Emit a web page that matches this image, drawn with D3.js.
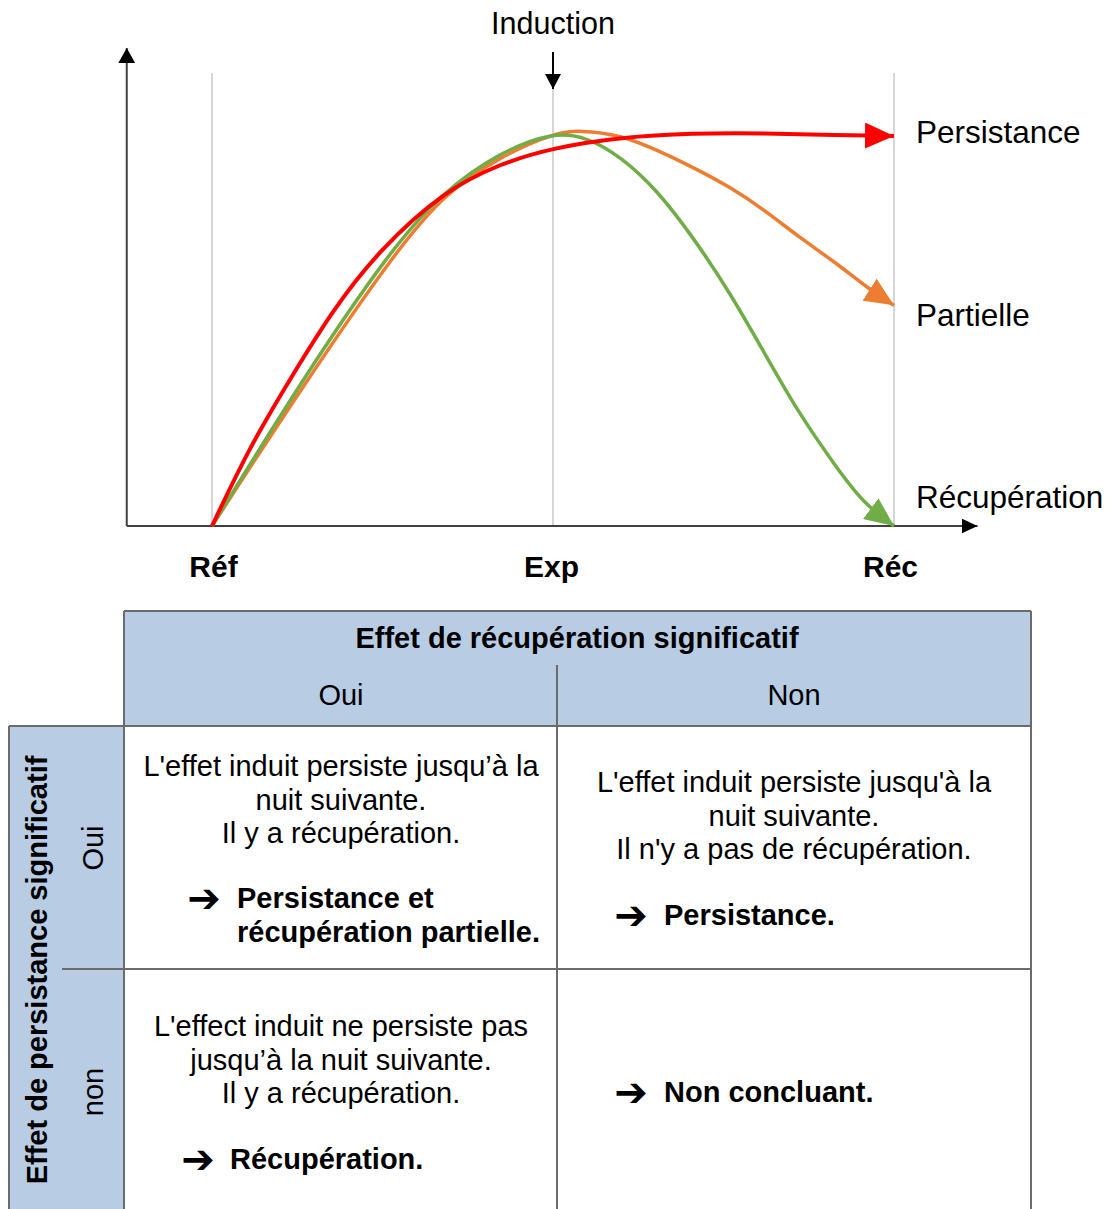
<!DOCTYPE html>
<html>
<head>
<meta charset="UTF-8">
<title>Persistance et récupération</title>
<script src="https://d3js.org/d3.v7.min.js"></script>
<style>
  body {
    margin: 0;
    padding: 0;
    background: #fff;
    overflow: hidden;
  }
  svg text {
    font-family: "Liberation Sans", Arial, sans-serif;
    fill: #000;
  }
</style>
</head>
<body>
<div id="chart"></div>
<script>
  // étapes sur l'axe horizontal
  const stages = ["Réf", "Exp", "Réc"];
  const stagePos = [0, 1, 2];

  // courbes (t = étape, v = effet en % du pic)
  const persistT = [0, 0.11, 0.22, 0.355, 0.49, 0.68, 0.845, 1.0, 1.2, 1.41, 1.62, 1.83, 2.0];
  const persistV = [0, 20, 36, 55, 70, 85, 92, 96, 98.7, 99.7, 99.7, 99.2, 99];

  const partielT = [0, 0.27, 0.54, 0.69, 0.845, 1.0, 1.08, 1.2, 1.305, 1.41, 1.52, 1.62, 1.72, 1.83, 1.93, 2.0];
  const partielV = [0, 36, 70, 85, 93.7, 99.7, 100.5, 99.2, 95.4, 91.1, 86, 80.2, 73.4, 66.8, 59.9, 56];

  const recupT = [0, 0.258, 0.522, 0.677, 0.845, 1.0, 1.1, 1.2, 1.305, 1.41, 1.52, 1.62, 1.72, 1.83, 1.91, 2.0];
  const recupV = [0, 36.3, 70, 84.8, 94.9, 100, 98.7, 93.7, 85.3, 73.4, 59.1, 43.9, 28.7, 15, 5.8, 0];

  const seriesNames = ["Persistance", "Partielle", "Récupération"];
  const seriesColors = ["#ff0000", "#ed7d31", "#70ad47"];

  // tableau
  const colHeader = "Effet de récupération significatif";
  const rowHeader = "Effet de persistance significatif";
  const colLabels = ["Oui", "Non"];
  const rowLabels = ["Oui", "non"];
  const cellLines = [
    [["L'effet induit persiste jusqu’à la", "nuit suivante.", "Il y a récupération."],
     ["L'effet induit persiste jusqu'à la", "nuit suivante.", "Il n'y a pas de récupération."]],
    [["L'effect induit ne persiste pas", "jusqu’à la nuit suivante.", "Il y a récupération."],
     []]
  ];
  const cellConclusions = [
    [["Persistance et", "récupération partielle."], ["Persistance."]],
    [["Récupération."], ["Non concluant."]]
  ];

  const W = 1113, H = 1209;
  const svg = d3.select("#chart").append("svg")
    .attr("width", W)
    .attr("height", H);

  const x = d3.scaleLinear().domain([0, 2]).range([212, 894]);
  const y = d3.scaleLinear().domain([0, 100]).range([526, 132]);

  // flèches
  const defs = svg.append("defs");
  function marker(id, color, len, wid) {
    defs.append("marker")
      .attr("id", id)
      .attr("viewBox", `0 0 ${len} ${wid}`)
      .attr("markerUnits", "userSpaceOnUse")
      .attr("markerWidth", len)
      .attr("markerHeight", wid)
      .attr("refX", len)
      .attr("refY", wid / 2)
      .attr("orient", "auto")
      .append("path")
      .attr("d", `M0,0 L${len},${wid / 2} L0,${wid} Z`)
      .attr("fill", color);
  }
  marker("ar-0", seriesColors[0], 29, 26);
  marker("ar-1", seriesColors[1], 29, 26);
  marker("ar-2", seriesColors[2], 29, 26);
  marker("ar-axis-y", "#000", 15, 17);
  marker("ar-axis-x", "#000", 16, 15);
  marker("ar-ind", "#000", 15, 16);

  // lignes verticales des étapes
  svg.append("g").selectAll("line")
    .data(stagePos)
    .enter().append("line")
    .attr("x1", d => x(d)).attr("x2", d => x(d))
    .attr("y1", y(115)).attr("y2", y(0))
    .attr("stroke", "#c0c0c0")
    .attr("stroke-width", 1.3);

  // axes
  svg.append("line")
    .attr("x1", x(-0.25)).attr("x2", x(-0.25))
    .attr("y1", y(0)).attr("y2", y(121.3))
    .attr("stroke", "#404040").attr("stroke-width", 2)
    .attr("marker-end", "url(#ar-axis-y)");
  svg.append("line")
    .attr("x1", x(-0.25)).attr("x2", x(2.245))
    .attr("y1", y(0)).attr("y2", y(0))
    .attr("stroke", "#404040").attr("stroke-width", 2)
    .attr("marker-end", "url(#ar-axis-x)");

  const xAxis = d3.axisBottom(x)
    .tickValues(stagePos)
    .tickSize(0)
    .tickPadding(0)
    .tickFormat((d, i) => stages[i]);
  const gx = svg.append("g")
    .attr("transform", `translate(0, ${y(0) + 40})`)
    .call(xAxis);
  gx.select(".domain").remove();
  gx.selectAll("text")
    .attr("dy", null)
    .attr("dx", (d, i) => [1, -2, -4][i])
    .attr("dominant-baseline", "central")
    .style("font-family", "'Liberation Sans', Arial, sans-serif")
    .style("font-size", "30px")
    .style("font-weight", "bold")
    .attr("fill", "#000");

  // induction
  svg.append("text")
    .attr("x", x(1)).attr("y", 23)
    .attr("text-anchor", "middle")
    .attr("dominant-baseline", "central")
    .style("font-size", "30.5px")
    .text("Induction");
  svg.append("line")
    .attr("x1", x(1)).attr("x2", x(1))
    .attr("y1", 52).attr("y2", 89)
    .attr("stroke", "#000").attr("stroke-width", 2)
    .attr("marker-end", "url(#ar-ind)");

  // courbes
  const series = [
    persistT.map((t, i) => [t, persistV[i]]),
    partielT.map((t, i) => [t, partielV[i]]),
    recupT.map((t, i) => [t, recupV[i]])
  ];
  const line = d3.line()
    .x(d => x(d[0]))
    .y(d => y(d[1]))
    .curve(d3.curveBasis);

  const drawOrder = [1, 2, 0];
  svg.append("g").selectAll("path")
    .data(drawOrder)
    .enter().append("path")
    .attr("d", i => line(series[i]))
    .attr("fill", "none")
    .attr("stroke", i => seriesColors[i])
    .attr("stroke-width", i => i === 0 ? 4 : 3.5)
    .attr("marker-end", i => `url(#ar-${i})`);

  // étiquettes des courbes
  const labelY = [132, 315, 497];
  svg.append("g").selectAll("text")
    .data(seriesNames)
    .enter().append("text")
    .attr("x", 916)
    .attr("y", (d, i) => labelY[i])
    .attr("dominant-baseline", "central")
    .style("font-size", "31.5px")
    .text(d => d);

  // ---------- tableau ----------
  const blue = "#b8cce4";
  const border = "#6b6b6b";
  const tL = 124, tR = 1031, tTop = 611, tHead = 726, tMid = 969, tCol = 557, tBot = H + 5;
  const sideL = 9;

  svg.append("rect")
    .attr("x", tL).attr("y", tTop)
    .attr("width", tR - tL).attr("height", tHead - tTop)
    .attr("fill", blue);
  svg.append("rect")
    .attr("x", sideL).attr("y", tHead)
    .attr("width", tL - sideL).attr("height", tBot - tHead)
    .attr("fill", blue);

  const borders = [
    [tL, tTop, tR, tTop],
    [sideL, tHead, tR, tHead],
    [62, tMid, tR, tMid],
    [tL, tTop, tL, tBot],
    [tR, tTop, tR, tBot],
    [sideL, tHead, sideL, tBot],
    [tCol, 665, tCol, tBot]
  ];
  svg.append("g").selectAll("line")
    .data(borders)
    .enter().append("line")
    .attr("x1", d => d[0]).attr("y1", d => d[1])
    .attr("x2", d => d[2]).attr("y2", d => d[3])
    .attr("stroke", border)
    .attr("stroke-width", 2);

  const fs = "29px";
  svg.append("text")
    .attr("x", 577).attr("y", 638)
    .attr("text-anchor", "middle")
    .attr("dominant-baseline", "central")
    .style("font-size", fs).style("font-weight", "bold")
    .text(colHeader);

  const colCenters = [341, 794];
  svg.append("g").selectAll("text")
    .data(colLabels)
    .enter().append("text")
    .attr("x", (d, i) => colCenters[i]).attr("y", 695)
    .attr("text-anchor", "middle")
    .attr("dominant-baseline", "central")
    .style("font-size", fs)
    .text(d => d);

  svg.append("text")
    .attr("transform", "translate(37, 970) rotate(-90)")
    .attr("text-anchor", "middle")
    .attr("dominant-baseline", "central")
    .style("font-size", fs).style("font-weight", "bold")
    .text(rowHeader);

  const rowCenters = [848, 1092];
  svg.append("g").selectAll("text")
    .data(rowLabels)
    .enter().append("text")
    .attr("transform", (d, i) => `translate(93, ${rowCenters[i]}) rotate(-90)`)
    .attr("text-anchor", "middle")
    .attr("dominant-baseline", "central")
    .style("font-size", fs)
    .text(d => d);

  // position du texte dans chaque cellule
  const cellLayout = [
    [{ top: 766, arrow: 204, text: 237, conc: 898 }, { top: 782, arrow: 631, text: 664, conc: 915 }],
    [{ top: 1026, arrow: 198, text: 230, conc: 1159 }, { top: 0, arrow: 631, text: 664, conc: 1092 }]
  ];
  const lh = 33.5;

  cellLines.forEach((row, r) => {
    row.forEach((lines, c) => {
      const lay = cellLayout[r][c];
      const g = svg.append("g");
      g.selectAll("text.l")
        .data(lines)
        .enter().append("text")
        .attr("class", "l")
        .attr("x", colCenters[c])
        .attr("y", (d, i) => lay.top + i * lh)
        .attr("text-anchor", "middle")
        .attr("dominant-baseline", "central")
        .style("font-size", fs)
        .text(d => d);

      g.append("text")
        .attr("x", lay.arrow)
        .attr("y", lay.conc)
        .attr("text-anchor", "middle")
        .attr("dominant-baseline", "central")
        .style("font-family", "'DejaVu Sans', sans-serif")
        .style("font-size", "40px")
        .style("font-weight", "bold")
        .text("➔");

      g.selectAll("text.c")
        .data(cellConclusions[r][c])
        .enter().append("text")
        .attr("class", "c")
        .attr("x", lay.text)
        .attr("y", (d, i) => lay.conc + i * lh)
        .attr("dominant-baseline", "central")
        .style("font-size", fs)
        .style("font-weight", "bold")
        .text(d => d);
    });
  });
</script>
</body>
</html>
